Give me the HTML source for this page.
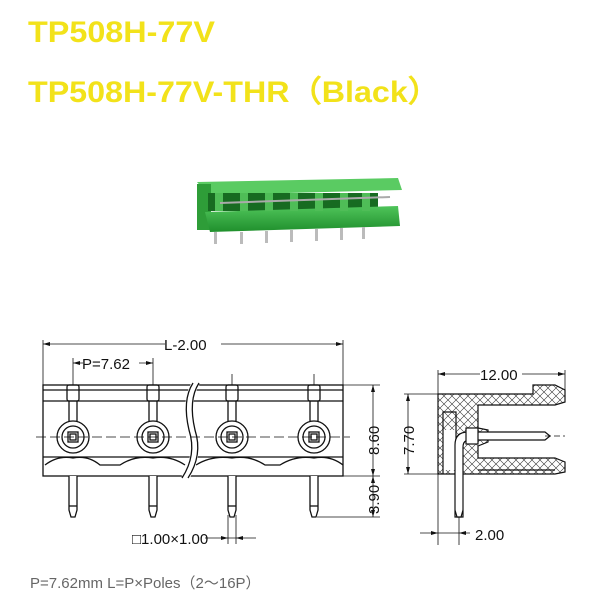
<!DOCTYPE html>
<html><head><style>
body{margin:0;background:#fff;}
svg{display:block;}
</style></head><body>
<svg width="600" height="600" viewBox="0 0 600 600" xmlns="http://www.w3.org/2000/svg" font-family="Liberation Sans, sans-serif">
<defs>
<pattern id="hatch" width="8" height="8" patternUnits="userSpaceOnUse">
<path d="M0 0L8 8M8 0L0 8" stroke="#333" stroke-width="0.6"/>
</pattern>
<linearGradient id="g1" x1="0" y1="0" x2="0" y2="1"><stop offset="0" stop-color="#4fc45a"/><stop offset="1" stop-color="#1f8f2c"/></linearGradient>
</defs>
<g fill="#f2e21a" font-weight="bold" font-size="30">
<text x="28" y="42" textLength="187" lengthAdjust="spacingAndGlyphs">TP508H-77V</text>
<text x="28" y="102" textLength="412" lengthAdjust="spacingAndGlyphs">TP508H-77V-THR（Black）</text>
</g>
<!-- product photo -->
<g>
<polygon points="197,182 398,178 402,190 208,195" fill="#5acb62"/>
<rect x="197" y="184" width="14" height="46" fill="#2e9d38"/>
<rect x="208" y="193" width="170" height="18" fill="#176b21"/>
<polygon points="205,212 398,206 400,226 210,232" fill="url(#g1)"/>
<g fill="#4fbd57"><rect x="215" y="193" width="8" height="18"/><rect x="240" y="193" width="8" height="18"/><rect x="265" y="193" width="8" height="18"/><rect x="290" y="193" width="8" height="18"/><rect x="315" y="193" width="8" height="18"/><rect x="340" y="193" width="8" height="18"/><rect x="362" y="193" width="8" height="18"/></g>
<line x1="220" y1="203" x2="390" y2="197" stroke="#aaa" stroke-width="2"/>
<g fill="#bbb"><rect x="214" y="232" width="3" height="12"/><rect x="240" y="232" width="3" height="12"/><rect x="265" y="231" width="3" height="12"/><rect x="290" y="230" width="3" height="12"/><rect x="315" y="229" width="3" height="12"/><rect x="340" y="228" width="3" height="12"/><rect x="362" y="227" width="3" height="12"/></g>
</g>
<!-- front view -->
<g stroke="#111" fill="none" stroke-width="1.3">
<rect x="43" y="385" width="300" height="91" fill="#fff"/>
<line x1="43" y1="401" x2="343" y2="401"/>
<line x1="43" y1="390" x2="343" y2="390"/>
<line x1="43" y1="457" x2="343" y2="457"/>
<path d="M45 465 Q58 455 73 458 Q88 455 100 465 L120 465 Q135 455 153 458 Q170 455 185 465 M196 465 Q212 455 232 458 Q250 455 265 465 L280 465 Q296 455 314 458 Q330 455 343 465"/>
<g id="c">
<circle cx="73" cy="437" r="16" fill="#fff"/>
<circle cx="73" cy="437" r="11"/>
<rect x="68" y="432" width="10" height="10"/>
<rect x="70" y="434" width="6" height="6"/>
<rect x="67" y="385" width="12" height="16" rx="2"/>
<line x1="69" y1="401" x2="69" y2="421"/><line x1="77" y1="401" x2="77" y2="421"/>
<path d="M69 476 L69 510 L71 517 L75 517 L77 510 L77 476" fill="#fff"/>
<line x1="69" y1="506" x2="77" y2="506"/>
</g>
<use href="#c" x="80"/><use href="#c" x="159"/><use href="#c" x="241"/>
<path d="M196 383 Q185 400 192 430 Q200 455 185 478" stroke="#fff" stroke-width="8"/>
<path d="M193 383 Q182 400 189 430 Q197 455 182 478 M199 383 Q188 400 195 430 Q203 455 188 478"/>
</g>
<g stroke="#111" stroke-width="0.8" fill="none">
<line x1="36" y1="437" x2="350" y2="437" stroke-dasharray="10,4"/>
<line x1="43" y1="340" x2="43" y2="385"/><line x1="343" y1="340" x2="343" y2="385"/>
<line x1="43" y1="344" x2="343" y2="344"/>
<line x1="73" y1="358" x2="73" y2="385"/><line x1="153" y1="358" x2="153" y2="385"/><line x1="232" y1="374" x2="232" y2="385"/><line x1="314" y1="374" x2="314" y2="385"/>
<line x1="73" y1="363" x2="153" y2="363"/>
<line x1="343" y1="385" x2="380" y2="385"/><line x1="343" y1="476" x2="380" y2="476"/><line x1="317" y1="517" x2="380" y2="517"/>
<line x1="373" y1="385" x2="373" y2="517"/>
<line x1="228" y1="515" x2="228" y2="544"/><line x1="236" y1="515" x2="236" y2="544"/>
<line x1="205" y1="538" x2="256" y2="538"/>
</g>
<g fill="#111">
<path d="M43 344l7 -2v4z M343 344l-7 -2v4z M73 363l7 -2v4z M153 363l-7 -2v4z M373 385l-2 7h4z M373 476l-2 -7h4z M373 476l-2 7h4z M373 517l-2 -7h4z M228 538l-7 -2v4z M236 538l7 -2v4z"/>
</g>
<g font-size="15" fill="#111">
<rect x="165" y="337" width="56" height="14" fill="#fff"/>
<text x="164" y="350">L-2.00</text>
<rect x="83" y="356" width="56" height="14" fill="#fff"/>
<text x="82" y="369">P=7.62</text>
<text transform="translate(379,455) rotate(-90)">8.60</text>
<text transform="translate(379,514) rotate(-90)">3.90</text>
<text x="132" y="544">□1.00×1.00</text>
</g>
<!-- side view -->
<g stroke="#111" stroke-width="1.2">
<path d="M438 394 L533 394 L533 385 L555 385 L565 390 L565 402 L555 405 L478 405 L478 428 L488 430 L488 442 L478 446 L478 458 L555 458 L565 462 L565 472 L555 474 L438 474 Z" fill="url(#hatch)"/>
<rect x="443" y="430" width="13" height="40" fill="#fff" stroke="none"/>
<path d="M443 474 L443 412 L456 412 L456 474" fill="none"/>
<path d="M478 470 L555 470" fill="none"/>
<path d="M455 517 L455 445 Q455 432 468 432 L545 432 L550 436 L545 440 L470 440 Q463 440 463 447 L463 517 Z" fill="#fff"/>
<path d="M455 510 L457 517 L461 517 L463 510" fill="#fff"/>
<rect x="466" y="428" width="12" height="16" fill="#fff"/>
</g>
<g stroke="#111" stroke-width="0.8" fill="none">
<line x1="438" y1="370" x2="438" y2="545"/><line x1="565" y1="370" x2="565" y2="390"/>
<line x1="438" y1="374" x2="565" y2="374"/>
<line x1="404" y1="394" x2="438" y2="394"/><line x1="404" y1="474" x2="438" y2="474"/>
<line x1="408" y1="394" x2="408" y2="474"/>
<line x1="459" y1="517" x2="459" y2="545"/>
<line x1="420" y1="533" x2="470" y2="533"/>
<line x1="545" y1="436" x2="565" y2="436" stroke-dasharray="6,3"/>
</g>
<g fill="#111">
<path d="M438 374l7 -2v4z M565 374l-7 -2v4z M408 394l-2 7h4z M408 474l-2 -7h4z M438 533l-7 -2v4z M459 533l7 -2v4z"/>
</g>
<g font-size="15" fill="#111">
<rect x="480" y="367" width="42" height="14" fill="#fff"/>
<text x="480" y="380">12.00</text>
<text transform="translate(414,455) rotate(-90)">7.70</text>
<text x="475" y="540">2.00</text>
</g>
<text x="30" y="588" font-size="15" fill="#666" font-family="Liberation Sans, Noto Sans CJK SC, sans-serif">P=7.62mm  L=P×Poles（2～16P）</text>
</svg>
</body></html>
